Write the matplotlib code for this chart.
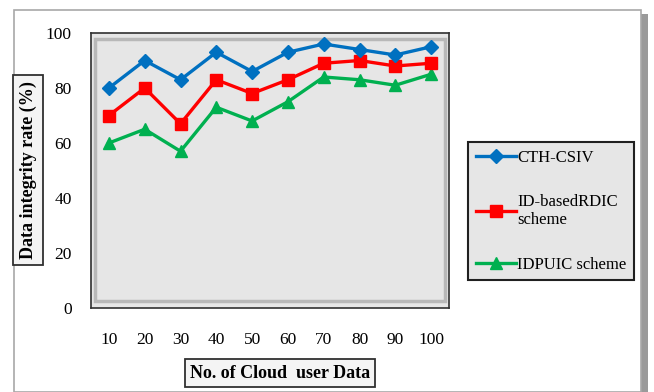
# -*- coding: utf-8 -*-

""" Data integrity rate vs number of cloud user data - line chart """

import matplotlib
matplotlib.use('Agg')
import matplotlib.pyplot as plt
from matplotlib.patches import Rectangle
import numpy as np

# => DATA
x_labels = ['10', '20', '30', '40', '50', '60', '70', '80', '90', '100']
cth_csiv = [80, 90, 83, 93, 86, 93, 96, 94, 92, 95]
id_rdic = [70, 80, 67, 83, 78, 83, 89, 90, 88, 89]
idpuic = [60, 65, 57, 73, 68, 75, 84, 83, 81, 85]
series_names = ['CTH-CSIV', 'ID-basedRDIC\nscheme', 'IDPUIC scheme']

W, H = 654, 392
plt.rcParams['font.family'] = ['Liberation Serif', 'DejaVu Serif']

fig = plt.figure(figsize=(W / 100, H / 100), dpi=100)
fig.patch.set_facecolor('white')


def fx(px):
    return px / W


def fy(py):
    return 1 - py / H


# => OUTER CHART FRAME (with shadow on the right)
fig.patches.append(Rectangle((fx(19), fy(392)), fx(629) - fx(0), fy(14) - fy(392),
                             transform=fig.transFigure, facecolor='#9a9a9a',
                             edgecolor='none', zorder=-2))
fig.patches.append(Rectangle((fx(14), fy(392)), fx(627) - fx(0), fy(10) - fy(392),
                             transform=fig.transFigure, facecolor='white',
                             edgecolor='#a8a8a8', linewidth=1.2, zorder=-1))

# => PLOT AREA
ax = fig.add_axes([fx(91), fy(308), fx(449) - fx(91), fy(33) - fy(308)])
ax.set_zorder(1)
ax.set_facecolor('#e6e6e6')
x = np.arange(len(x_labels))

ax.plot(x, idpuic, color='#00b050', lw=2.4, marker='^', ms=9, zorder=3,
        label=series_names[2])
ax.plot(x, id_rdic, color='#ff0000', lw=2.4, marker='s', ms=9, zorder=4,
        label=series_names[1])
ax.plot(x, cth_csiv, color='#0070c0', lw=2.4, marker='D', ms=7, zorder=5,
        label=series_names[0])

ax.set_xlim(-0.5, len(x_labels) - 0.5)
ax.set_ylim(0, 100)
ax.set_xticks(x)
ax.set_xticklabels(x_labels)
ax.set_yticks(np.arange(0, 101, 20))
ax.tick_params(axis='both', length=0, labelsize=12.5)
ax.tick_params(axis='x', pad=17)
ax.tick_params(axis='y', pad=14)

for sp in ax.spines.values():
    sp.set_color('#303030')
    sp.set_linewidth(1.2)

# bevel inside plot area
ax.add_patch(Rectangle((0.012, 0.025), 0.976, 0.955, transform=ax.transAxes,
                       facecolor='none', edgecolor='#b8b8b8', linewidth=2.5, zorder=1))

# => LEGEND
handles, labels = ax.get_legend_handles_labels()
order = [2, 1, 0]
leg = fig.legend([handles[i] for i in order], [labels[i] for i in order],
                 loc='upper left', bbox_to_anchor=(fx(468), fy(142)),
                 bbox_transform=fig.transFigure, frameon=True, fancybox=False,
                 fontsize=12, handlelength=2.4, handletextpad=0.1,
                 labelspacing=1.7, borderpad=0.45, borderaxespad=0)
leg.set_zorder(5)
leg.get_frame().set_facecolor('#e6e6e6')
leg.get_frame().set_edgecolor('#202020')
leg.get_frame().set_linewidth(1.5)
leg.get_frame().set_alpha(1)

# => AXIS TITLE BOXES
fig.text(fx(28), fy(170), 'Data integrity rate (%)', rotation=90, ha='center',
         va='center', fontsize=13, fontweight='bold', zorder=5,
         bbox=dict(boxstyle='square,pad=0.35', facecolor='#f4f4f4',
                   edgecolor='#303030', linewidth=1.3))
fig.text(fx(280), fy(373), 'No. of Cloud  user Data', ha='center', va='center',
         fontsize=13, fontweight='bold', zorder=5,
         bbox=dict(boxstyle='square,pad=0.3', facecolor='#f4f4f4',
                   edgecolor='#303030', linewidth=1.3))

plt.savefig('out.png', dpi=100)
